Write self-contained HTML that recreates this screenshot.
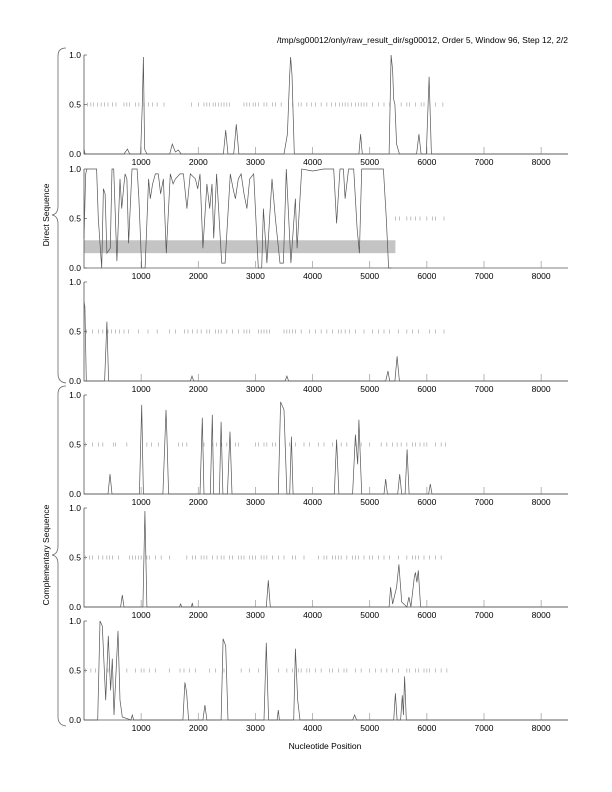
<!DOCTYPE html>
<html><head><meta charset="utf-8"><style>
body{margin:0;background:#fff}
svg{display:block;font-family:"Liberation Sans",sans-serif}
</style></head><body>
<svg id="chart" width="612" height="792" viewBox="0 0 612 792" xmlns="http://www.w3.org/2000/svg">
<text x="568" y="43" font-size="8.5" text-anchor="end">/tmp/sg00012/only/raw_result_dir/sg00012, Order 5, Window 96, Step 12, 2/2</text>
<path d="M66,48 Q58,48 58,56 L58,206 Q58,214 52,215 Q58,216 58,224 L58,374 Q58,382 66,383" fill="none" stroke="#666" stroke-width="0.8"/>
<path d="M66,386 Q58,386 58,394 L58,546 Q58,554 52,555 Q58,556 58,564 L58,717 Q58,725 66,726" fill="none" stroke="#666" stroke-width="0.8"/>
<text transform="translate(49,215) rotate(-90)" font-size="8.5" text-anchor="middle">Direct Sequence</text>
<text transform="translate(49,555) rotate(-90)" font-size="8.5" text-anchor="middle">Complementary Sequence</text>
<text x="325" y="749" font-size="8.5" text-anchor="middle">Nucleotide Position</text>
<g id="panels"></g>
</svg>
<script>
const xTicks = [1000,2000,3000,4000,5000,6000,7000,8000];
const yTicks = [0.0,0.5,1.0];
const p1Pos = [0,20,40,700,760,800,990,1020,1040,1060,1100,1500,1545,1600,1650,1700,2440,2480,2520,2620,2665,2710,3500,3560,3600,3615,3640,3680,4810,4840,4870,5340,5375,5400,5420,5440,5470,5520,5820,5860,5900,5990,6040,6080,8470];
const p1Val = [0.05,0,0,0,0.05,0,0,0.5,0.98,0.05,0,0,0.1,0.02,0.04,0,0,0.24,0,0,0.3,0,0,0.2,0.8,0.98,0.8,0,0,0.2,0,0,1.0,0.85,0.55,0.5,0.1,0,0,0.2,0,0,0.78,0,0];
const p2Pos = [0,30,50,220,250,310,340,370,400,460,490,520,575,630,660,700,720,750,780,840,930,960,1010,1070,1130,1160,1200,1250,1300,1340,1390,1440,1510,1560,1600,1680,1740,1800,1860,1950,1990,2030,2080,2150,2200,2240,2270,2320,2410,2470,2560,2610,2650,2700,2750,2800,2850,2900,2970,3050,3110,3140,3200,3290,3350,3430,3490,3540,3620,3700,3730,3810,4000,4200,4370,4420,4480,4540,4570,4630,4720,4780,4820,4860,5000,5240,5290,5330,5380];
const p2Val = [0.3,0.95,1.0,1.0,0.5,0.0,0.8,0.75,0.15,0.2,1.0,1.0,0.07,0.9,0.6,0.85,0.95,0.9,0.25,1.0,1.0,0.7,0.0,0.0,0.9,0.7,0.85,0.95,0.95,0.75,0.9,0.15,0.95,0.85,0.9,0.95,0.95,0.6,0.95,0.9,0.8,0.95,0.2,0.85,0.6,0.85,0.3,0.95,0.05,0.05,0.95,0.8,0.7,0.9,0.95,0.75,0.6,0.9,0.95,0.0,0.0,0.6,0.05,0.9,0.5,0.05,0.05,1.0,0.05,0.7,0.2,1.0,0.98,1.0,1.0,0.45,1.0,1.0,0.7,1.0,1.0,0.4,0.15,1.0,1.0,1.0,0.5,0.0,0.0];
const p3Pos = [0,15,40,360,400,430,1860,1890,1920,3520,3550,3580,5280,5320,5350,5440,5480,5520,8470];
const p3Val = [0.8,0.75,0,0,0.6,0,0,0.05,0,0,0.05,0,0,0.1,0,0,0.25,0,0];
const p4Pos = [0,420,455,490,970,1010,1040,1380,1420,1435,1450,1480,2030,2070,2100,2210,2245,2270,2370,2400,2430,2510,2555,2590,3400,3440,3500,3550,3600,3630,3660,4380,4420,4460,4700,4750,4790,4810,4860,5250,5280,5310,5490,5525,5560,5620,5655,5690,6030,6060,6090,8470];
const p4Val = [0,0,0.2,0,0,0.9,0,0,0.6,0.85,0.6,0,0,0.77,0,0,0.8,0,0,0.73,0,0,0.63,0,0,0.93,0.85,0,0,0.58,0,0,0.55,0,0,0.6,0.3,0.75,0,0,0.15,0,0,0.2,0,0,0.45,0,0,0.1,0,0];
const p5Pos = [0,640,670,700,1030,1065,1100,1670,1690,1710,1880,1895,1910,3190,3225,3260,5340,5365,5400,5470,5510,5560,5650,5685,5720,5780,5800,5825,5850,5890,8470];
const p5Val = [0,0,0.12,0,0,0.97,0,0,0.03,0,0,0.04,0,0,0.27,0,0,0.2,0.03,0.2,0.43,0.05,0,0.1,0,0.3,0.35,0.25,0.37,0,0];
const p6Pos = [0,240,280,320,380,425,465,495,525,595,630,670,820,845,870,1730,1765,1795,1830,2080,2115,2150,2400,2435,2480,2520,3150,3190,3230,3380,3400,3420,3670,3700,3740,3780,4700,4735,4770,5420,5450,5480,5540,5570,5590,5610,5640,8470];
const p6Val = [0,0,1.0,0.95,0.2,0.85,0.3,0.62,0.05,0.9,0.2,0.03,0,0.05,0,0,0.38,0.28,0,0,0.15,0,0,0.82,0.75,0,0,0.78,0,0,0.1,0,0,0.72,0.2,0,0,0.05,0,0,0.27,0,0,0.25,0.05,0.44,0,0];
const p1Marks = [60,120,170,240,300,360,420,500,560,700,750,800,900,960,1050,1130,1200,1280,1400,1880,2000,2100,2150,2200,2260,2300,2350,2400,2450,2500,2550,2800,2850,2900,2960,3000,3050,3150,3200,3300,3350,3450,3650,3750,3800,3900,3980,4050,4150,4250,4330,4400,4470,4520,4570,4620,4680,4750,4800,4850,4900,4950,5050,5150,5250,5350,5550,5650,5700,5800,5900,5950,6150,6280];
const p3Marks = [40,150,250,330,420,480,550,620,700,780,950,1120,1280,1500,1600,1760,1820,1900,1980,2050,2150,2200,2300,2350,2400,2500,2600,2700,2800,2850,2900,3050,3100,3150,3200,3250,3500,3550,3600,3650,3700,3800,3950,4050,4150,4250,4350,4450,4500,4570,4650,4750,4900,5050,5150,5250,5350,5500,5650,5750,5850,6050,6150,6300];
const p4Marks = [30,150,250,330,520,550,750,1100,1180,1300,1650,1720,1800,2100,2250,2320,2400,2500,2650,2700,3000,3050,3150,3200,3300,3350,3520,3600,3700,3850,3950,4100,4200,4350,4500,4600,4750,4800,4850,5000,5200,5300,5400,5480,5550,5650,5750,5800,5880,5950,6000,6150,6250,6330];
const p2Marks = [5450,5520,5650,5720,5800,5880,6000,6100,6150,6300];
const p5Marks = [30,100,150,250,330,400,450,500,600,800,850,900,950,1000,1100,1150,1250,1350,1500,1800,1900,1950,2050,2100,2150,2250,2330,2400,2450,2550,2600,2700,2750,2800,2900,2950,3000,3100,3150,3200,3300,3400,3500,3650,3700,3850,4100,4200,4250,4350,4400,4450,4500,4600,4700,4750,4800,4900,5000,5050,5150,5250,5350,5500,5650,5750,5800,5850,5950,6050,6150,6250];
const p6Marks = [30,120,200,420,750,900,1000,1050,1150,1250,1500,1680,1750,1850,1950,2200,2300,2450,2750,2900,3050,3400,3550,3650,3750,3800,3900,3950,4050,4150,4300,4350,4450,4550,4600,4750,4850,5000,5100,5200,5300,5400,5500,5650,5700,5800,5850,5950,6000,6050,6150,6250,6350];
const bandLow = 0.15, bandHigh = 0.28, bandEnd = 5450;

const NS = 'http://www.w3.org/2000/svg';
const g = document.getElementById('panels');
const X0 = 84, XMAX = 8470, W = 484;
function xs(v){ return X0 + v / XMAX * W; }
const bottoms = [154,268,381,494,607,720];
const series = [[p1Pos,p1Val],[p2Pos,p2Val],[p3Pos,p3Val],[p4Pos,p4Val],[p5Pos,p5Val],[p6Pos,p6Val]];
const marks = [p1Marks,p2Marks,p3Marks,p4Marks,p5Marks,p6Marks];
function mk(tag, attrs){ const e = document.createElementNS(NS, tag); for (const k in attrs) e.setAttribute(k, attrs[k]); return e; }
bottoms.forEach((b, i) => {
  const ys = v => b - v * 99;
  const pg = mk('g', {});
  
  
  g.appendChild(pg);
  if (i === 1) {
    const r = mk('rect', {x: xs(0), y: ys(bandHigh), width: xs(bandEnd) - xs(0), height: ys(bandLow) - ys(bandHigh), fill: '#c4c4c4'});
    
    
    pg.appendChild(r);
  }
  const ax = mk('path', {d: `M${X0},${ys(1)} L${X0},${b} L${X0 + W},${b}`, stroke: '#555', 'stroke-width': 0.8, fill: 'none'});
  
  
  pg.appendChild(ax);
  xTicks.forEach(t => {
    const l = mk('line', {x1: xs(t), x2: xs(t), y1: b, y2: b - 7, stroke: '#999', 'stroke-width': 0.7});
    
    
    pg.appendChild(l);
    const tx = mk('text', {x: xs(t), y: b + 11, 'font-size': 8.5, 'text-anchor': 'middle'});
    
    
    tx.textContent = t;
    pg.appendChild(tx);
  });
  yTicks.forEach(t => {
    const tx = mk('text', {x: 81, y: ys(t) + 3, 'font-size': 8.5, 'text-anchor': 'end'});
    
    
    tx.textContent = t.toFixed(1);
    pg.appendChild(tx);
    const l = mk('line', {x1: X0, x2: X0 + 3, y1: ys(t), y2: ys(t), stroke: '#555', 'stroke-width': 0.7});
    
    
    pg.appendChild(l);
  });
  marks[i].forEach(m => {
    const l = mk('line', {x1: xs(m), x2: xs(m), y1: ys(0.5) - 2, y2: ys(0.5) + 2, stroke: '#999', 'stroke-width': 0.6});
    
    
    pg.appendChild(l);
  });
  const [P, V] = series[i];
  const d = P.map((p, k) => (k ? 'L' : 'M') + xs(p).toFixed(1) + ',' + ys(V[k]).toFixed(1)).join(' ');
  const path = mk('path', {d: d, fill: 'none', stroke: '#555', 'stroke-width': 0.7});
  
  
  pg.appendChild(path);
});
</script>
</body></html>
